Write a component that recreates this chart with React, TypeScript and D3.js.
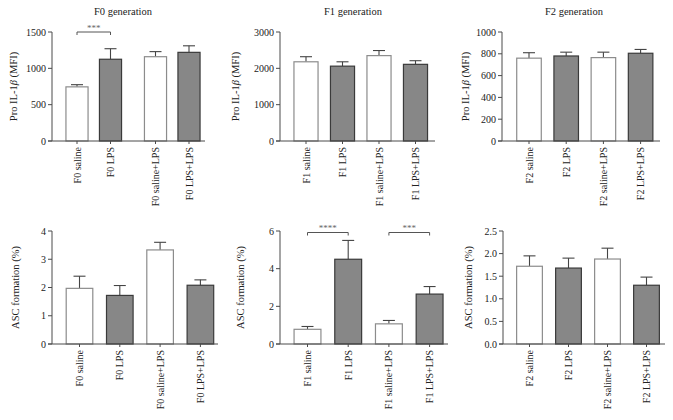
import React from "react";
import * as d3 from "d3";

const f0Cats = ["F0 saline", "F0 LPS", "F0 saline+LPS", "F0 LPS+LPS"];
const f1Cats = ["F1 saline", "F1 LPS", "F1 saline+LPS", "F1 LPS+LPS"];
const f2Cats = ["F2 saline", "F2 LPS", "F2 saline+LPS", "F2 LPS+LPS"];

const f0Il = [745, 1125, 1160, 1220];
const f0IlErr = [30, 145, 70, 90];
const f1Il = [2180, 2060, 2350, 2110];
const f1IlErr = [140, 120, 140, 100];
const f2Il = [760, 780, 765, 805];
const f2IlErr = [50, 35, 50, 35];

const f0Asc = [1.97, 1.72, 3.33, 2.08];
const f0AscErr = [0.43, 0.35, 0.27, 0.19];
const f1Asc = [0.78, 4.5, 1.07, 2.65];
const f1AscErr = [0.15, 1.0, 0.18, 0.4];
const f2Asc = [1.72, 1.68, 1.88, 1.3];
const f2AscErr = [0.23, 0.22, 0.24, 0.18];

const ilTicksF0 = [0, 500, 1000, 1500];
const ilTicksF1 = [0, 1000, 2000, 3000];
const ilTicksF2 = [0, 200, 400, 600, 800, 1000];
const ascTicksF0 = [0, 1, 2, 3, 4];
const ascTicksF1 = [0, 2, 4, 6];
const ascTicksF2 = [0, 0.5, 1.0, 1.5, 2.0, 2.5];

const titles = ["F0 generation", "F1 generation", "F2 generation"];
const ilLabel = "Pro IL-1";
const ascLabel = "ASC formation (%)";

const sigF0Il = [{ from: 0, to: 1, level: 1500, text: "***" }];
const sigF1Asc = [
  { from: 0, to: 1, level: 5.92, text: "****" },
  { from: 2, to: 3, level: 5.92, text: "***" },
];

const FONT = "'Liberation Serif', 'DejaVu Serif', serif";
const GRAY = "#878787";
const AXIS = "#4a4a4a";

type PanelProps = {
  cats: string[];
  values: number[];
  errs: number[];
  ticks: number[];
  fmt: (v: number) => string;
  axisX: number;
  xEnd: number;
  yTop: number;
  yBottom: number;
  range: [number, number];
  gap?: number;
  title?: string;
  titleX?: number;
  labelX: number;
  ylabel: "il" | "asc";
  sig?: { from: number; to: number; level: number; text: string }[];
};

function Panel(p: PanelProps) {
  const max = p.ticks[p.ticks.length - 1];
  const y = d3.scaleLinear().domain([0, max]).range([p.yBottom, p.yTop]);
  const band = d3
    .scaleBand<string>()
    .domain(p.cats)
    .range(p.range)
    .paddingInner(0.34)
    .paddingOuter(0.17);
  const bw = band.bandwidth();
  const cx = (i: number) =>
    (band(p.cats[i]) as number) + bw / 2 + (p.gap && i >= 2 ? p.gap : 0);
  const midY = (p.yTop + p.yBottom) / 2;
  return (
    <g>
      {p.title && (
        <text
          x={p.titleX}
          y={15}
          textAnchor="middle"
          fontFamily={FONT}
          fontSize={10.5}
          fill="#222"
        >
          {p.title}
        </text>
      )}
      {/* y label */}
      <text
        transform={`translate(${p.labelX},${midY}) rotate(-90)`}
        textAnchor="middle"
        dy="0.35em"
        fontFamily={FONT}
        fontSize={10.5}
        fill="#222"
      >
        {p.ylabel === "il" ? (
          <>
            {ilLabel}
            <tspan fontStyle="italic">β</tspan>
            {" (MFI)"}
          </>
        ) : (
          ascLabel
        )}
      </text>
      {/* bars */}
      {p.values.map((v, i) => {
        const x0 = cx(i) - bw / 2;
        const isGray = i % 2 === 1;
        const top = y(v);
        const et = y(v + p.errs[i]);
        return (
          <g key={i}>
            <line
              x1={cx(i)}
              x2={cx(i)}
              y1={top}
              y2={et}
              stroke="#444"
              strokeWidth={1.1}
            />
            <line
              x1={cx(i) - 6}
              x2={cx(i) + 6}
              y1={et}
              y2={et}
              stroke="#444"
              strokeWidth={1.1}
            />
            <rect
              x={x0}
              y={top}
              width={bw}
              height={p.yBottom - top}
              fill={isGray ? GRAY : "#fff"}
              stroke={isGray ? "#3a3a3a" : "#8c8c8c"}
              strokeWidth={1.2}
            />
          </g>
        );
      })}
      {/* y axis */}
      <line
        x1={p.axisX}
        x2={p.axisX}
        y1={p.yTop}
        y2={p.yBottom}
        stroke={AXIS}
        strokeWidth={1}
      />
      {p.ticks.map((t) => (
        <g key={t}>
          <line
            x1={p.axisX - 4}
            x2={p.axisX}
            y1={y(t)}
            y2={y(t)}
            stroke={AXIS}
          />
          <text
            x={p.axisX - 6}
            y={y(t)}
            dy="0.35em"
            textAnchor="end"
            fontFamily={FONT}
            fontSize={10}
            fill="#222"
          >
            {p.fmt(t)}
          </text>
        </g>
      ))}
      {/* x axis */}
      <line
        x1={p.axisX - 4}
        x2={p.xEnd}
        y1={p.yBottom}
        y2={p.yBottom}
        stroke={AXIS}
        strokeWidth={1}
      />
      {p.cats.map((c, i) => (
        <g key={c}>
          <line
            x1={cx(i)}
            x2={cx(i)}
            y1={p.yBottom}
            y2={p.yBottom + 3}
            stroke={AXIS}
          />
          <text
            transform={`translate(${cx(i)},${p.yBottom + 6}) rotate(-90)`}
            dy="0.35em"
            textAnchor="end"
            fontFamily={FONT}
            fontSize={10}
            fill="#222"
          >
            {c}
          </text>
        </g>
      ))}
      {/* significance */}
      {(p.sig || []).map((s, k) => {
        const yy = y(s.level);
        const a = cx(s.from);
        const b = cx(s.to);
        return (
          <g key={k}>
            <path
              d={`M${a},${yy + 3}V${yy}H${b}V${yy + 3}`}
              fill="none"
              stroke="#555"
              strokeWidth={1}
            />
            <text
              x={(a + b) / 2}
              y={yy - 1.5}
              textAnchor="middle"
              fontFamily={FONT}
              fontSize={9}
              fill="#666"
            >
              {s.text}
            </text>
          </g>
        );
      })}
    </g>
  );
}

const fmtInt = (v: number) => d3.format("d")(v);
const fmt1 = (v: number) => d3.format(".1f")(v);

export default function App() {
  return (
    <svg
      width={673}
      height={420}
      style={{ position: "absolute", left: 0, top: 0, background: "#fff" }}
    >
      <Panel
        cats={f0Cats}
        values={f0Il}
        errs={f0IlErr}
        ticks={ilTicksF0}
        fmt={fmtInt}
        axisX={52}
        xEnd={205}
        yTop={32}
        yBottom={141}
        range={[60.25, 194.25]}
        gap={11.5}
        title={titles[0]}
        titleX={123}
        labelX={13}
        ylabel="il"
        sig={sigF0Il}
      />
      <Panel
        cats={f1Cats}
        values={f1Il}
        errs={f1IlErr}
        ticks={ilTicksF1}
        fmt={fmtInt}
        axisX={280}
        xEnd={435}
        yTop={32}
        yBottom={141}
        range={[287.75, 433.75]}
        title={titles[1]}
        titleX={353}
        labelX={235}
        ylabel="il"
      />
      <Panel
        cats={f2Cats}
        values={f2Il}
        errs={f2IlErr}
        ticks={ilTicksF2}
        fmt={fmtInt}
        axisX={502}
        xEnd={660}
        yTop={32}
        yBottom={141}
        range={[510.4, 659.2]}
        title={titles[2]}
        titleX={574}
        labelX={465}
        ylabel="il"
      />
      <Panel
        cats={f0Cats}
        values={f0Asc}
        errs={f0AscErr}
        ticks={ascTicksF0}
        fmt={fmtInt}
        axisX={52}
        xEnd={218}
        yTop={231}
        yBottom={344}
        range={[59.35, 220.55]}
        labelX={15}
        ylabel="asc"
      />
      <Panel
        cats={f1Cats}
        values={f1Asc}
        errs={f1AscErr}
        ticks={ascTicksF1}
        fmt={fmtInt}
        axisX={280}
        xEnd={448}
        yTop={231}
        yBottom={344}
        range={[287.15, 449.95]}
        labelX={240}
        ylabel="asc"
        sig={sigF1Asc}
      />
      <Panel
        cats={f2Cats}
        values={f2Asc}
        errs={f2AscErr}
        ticks={ascTicksF2}
        fmt={fmt1}
        axisX={503}
        xEnd={665}
        yTop={231}
        yBottom={344}
        range={[510, 666]}
        labelX={468}
        ylabel="asc"
      />
    </svg>
  );
}
